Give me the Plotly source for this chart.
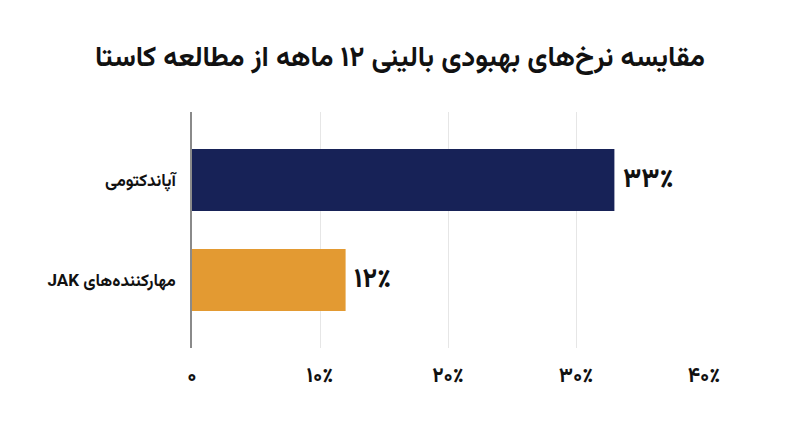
import plotly.graph_objects as go

# data
treatments = ['آپاندکتومی', 'مهارکننده‌های JAK']
success_rate = [33, 12]
value_labels = ['۳۳٪', '۱۲٪']
bar_colors = ['#172257', '#E39A32']
tick_vals = [0, 10, 20, 30, 40]
tick_text = ['۰', '۱۰٪', '۲۰٪', '۳۰٪', '۴۰٪']

title = 'مقایسه نرخ‌های بهبودی بالینی ۱۲ ماهه از مطالعه کاستا'
font_fa = 'Vazirmatn, DejaVu Sans, sans-serif'

# wrap in a right-to-left embedding so mixed Persian/Latin labels read correctly
rtl = ['\u202b' + t + '\u202c' for t in treatments]

fig = go.Figure(go.Bar(
    x=success_rate, y=rtl, orientation='h',
    marker=dict(color=bar_colors, line=dict(width=0)),
    width=0.62,
    text=value_labels, texttemplate='\u2009%{text}',
    textposition='outside', cliponaxis=False,
    textfont=dict(family=font_fa, size=27, color='#111111', weight='bold'),
    hoverinfo='skip',
))

fig.update_layout(
    width=800, height=447,
    paper_bgcolor='white', plot_bgcolor='white',
    margin=dict(l=184, r=104, t=104, b=107),
    showlegend=False,
    title=dict(text=title, x=0.49, xanchor='center',
               y=0.892, yanchor='middle',
               font=dict(family=font_fa, size=28, color='#111111', weight='bold')),
    font=dict(family=font_fa, color='#111111'),
)

fig.update_xaxes(
    range=[0, 40], tickvals=tick_vals, ticktext=tick_text,
    showgrid=True, gridcolor='#e6e6e6', gridwidth=1.2,
    zeroline=False, showline=False, ticks='',
    ticklabelstandoff=12,
    tickfont=dict(family=font_fa, size=21, color='#111111', weight='bold'),
)
fig.update_yaxes(
    type='category', categoryarray=rtl, range=[1.68, -0.68],
    showgrid=False, zeroline=False,
    showline=True, linecolor='#8a8a8a', linewidth=1.5,
    ticks='', ticklabelstandoff=11,
    tickfont=dict(family=font_fa, size=17, color='#111111', weight='bold'),
)

fig.write_html("out.html")
